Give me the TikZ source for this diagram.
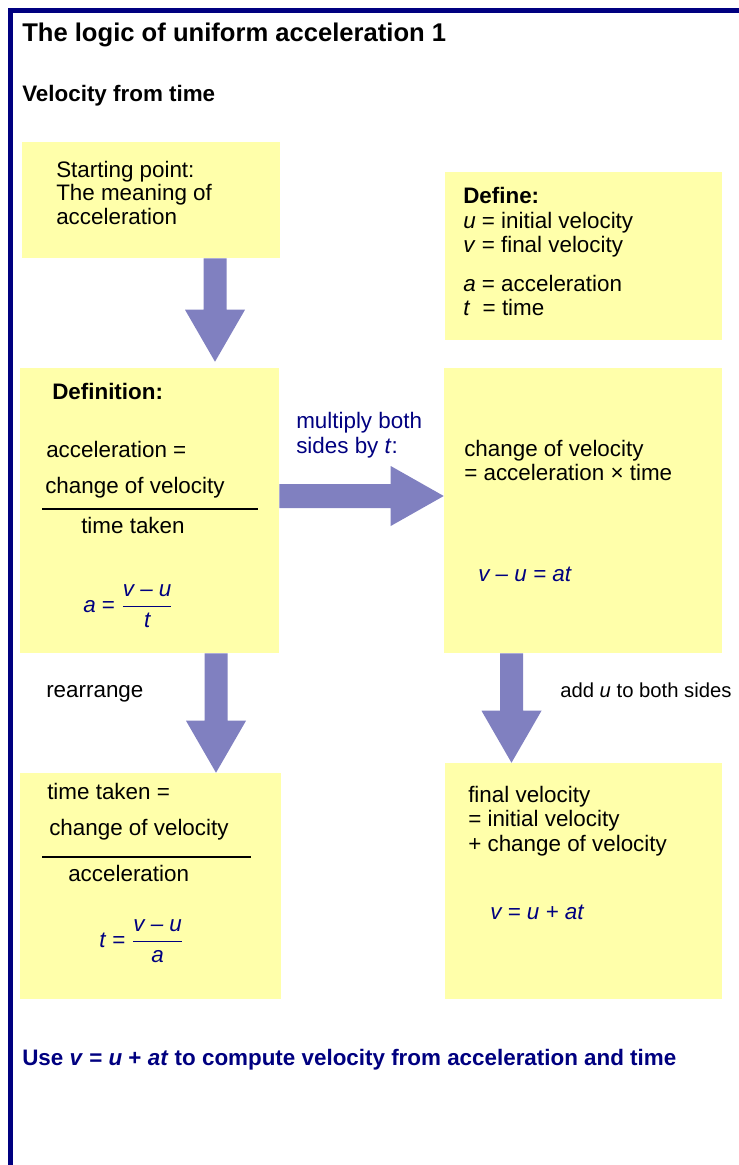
\documentclass[tikz,border=0pt]{standalone}
\usepackage{amsmath}
\usepackage{fontspec}
\setmainfont{Liberation Sans}
\usepackage{xcolor}
\usetikzlibrary{calc,fit}

\definecolor{noteyellow}{HTML}{FFFFAA}
\definecolor{arrowblue}{HTML}{8080C0}
\definecolor{framenavy}{HTML}{000080}

\tikzset{
  notebox/.style={fill=noteyellow, draw=none, inner sep=0pt},
  txt/.style={anchor=base west, inner sep=0pt, font=\fontsize{16.8}{20}\selectfont},
  navytxt/.style={txt, text=framenavy},
  blockarrow/.style={fill=arrowblue},
  fracline/.style={line width=1.9pt},
}

% block arrows: #1 = tail, #2 = tip
\newcommand{\blockdown}[2]{%
  \fill[blockarrow] ($(#1)+(-11.5,0)$) -- ($(#1)+(11.5,0)$) -- ($(#2)+(11.5,-52)$)
    -- ($(#2)+(30,-52)$) -- (#2) -- ($(#2)+(-30,-52)$) -- ($(#2)+(-11.5,-52)$) -- cycle;}
\newcommand{\blockright}[2]{%
  \fill[blockarrow] ($(#1)+(0,-12)$) -- ($(#1)+(0,12)$) -- ($(#2)+(-53,12)$)
    -- ($(#2)+(-53,30)$) -- (#2) -- ($(#2)+(-53,-30)$) -- ($(#2)+(-53,-12)$) -- cycle;}

\begin{document}
\begin{tikzpicture}[x=0.75pt, y=-0.75pt]
\useasboundingbox (0,0) rectangle (739,1165);
% frame
\fill[framenavy] (7.5,7.5) rectangle (739,12.5);
\fill[framenavy] (7.5,7.5) rectangle (12.5,1165);

\node[txt, font=\fontsize{19.2}{23}\selectfont\bfseries] (title) at (22,41) {The logic of uniform acceleration 1};
\node[txt, font=\fontsize{16.8}{20}\selectfont\bfseries] (sub) at (22,101) {Velocity from time};

% boxes
\node[notebox, fit={(22,142) (280,258)}] (start) {};
\node[notebox, fit={(445,172) (722,340)}] (define) {};
\node[notebox, fit={(20,368) (279,653)}] (defn) {};
\node[notebox, fit={(444,368) (722,653)}] (change) {};
\node[notebox, fit={(20,773) (281,999)}] (tdef) {};
\node[notebox, fit={(445,763) (722,999)}] (final) {};

% starting point
\node[txt] (start1) at (56,177) {Starting point:};
\node[txt] (start2) at (56,200) {The meaning of};
\node[txt] (start3) at (56,224) {acceleration};

% symbols
\node[txt] (def0) at (463,203) {\bfseries Define:};
\node[txt] (def1) at (463,228) {\textit{u} = initial velocity};
\node[txt] (def2) at (463,252) {\textit{v} = final velocity};
\node[txt] (def3) at (463,291) {\textit{a} = acceleration};
\node[txt] (def4) at (463,315) {\textit{t}~ = time};

% definition
\node[txt] (defn0) at (52,399) {\bfseries Definition:};
\node[txt] (defn1) at (46,457) {acceleration =};
\node[txt] (defn2) at (45,493) {change of velocity};
\draw[fracline] (42,509) -- (258,509);
\node[txt] (defn3) at (81,533) {time taken};
\node[navytxt] (aeq) at (83,612) {\textit{a} = $\dfrac{\text{\itshape v – u}}{\text{\itshape t}}$};

% change of velocity
\node[txt] (chg1) at (464,456) {change of velocity};
\node[txt] (chg2) at (464,480) {= acceleration × time};
\node[navytxt] (chg3) at (478,581) {\itshape v – u = at};

% time taken
\node[txt] (tdef1) at (47,799) {time taken =};
\node[txt] (tdef2) at (49,835) {change of velocity};
\draw[fracline] (42,857) -- (251,857);
\node[txt] (tdef3) at (68,881) {acceleration};
\node[navytxt] (teq) at (99,947) {\textit{t} = $\dfrac{\text{\itshape v – u}}{\text{\itshape a}}$};

% final velocity
\node[txt] (fin1) at (468,802) {final velocity};
\node[txt] (fin2) at (468,826) {= initial velocity};
\node[txt] (fin3) at (468,851) {+ change of velocity};
\node[navytxt] (fin4) at (490,919) {\itshape v = u + at};

% arrows
\coordinate (a1from) at ($(start.south)+(64,0)$);
\coordinate (a1to) at ($(a1from |- defn.north)+(0,-6)$);
\blockdown{a1from}{a1to}
\coordinate (a2from) at ($(defn.east)+(0,-14.5)$);
\coordinate (a2to) at (a2from -| change.west);
\blockright{a2from}{a2to}
\coordinate (a3from) at ($(defn.south)+(66.5,0)$);
\coordinate (a3to) at (a3from |- tdef.north);
\blockdown{a3from}{a3to}
\coordinate (a4from) at ($(change.south)+(-71.5,0)$);
\coordinate (a4to) at (a4from |- final.north);
\blockdown{a4from}{a4to}

\node[navytxt] (mult1) at (296,428) {multiply both};
\node[navytxt] (mult2) at (296,453) {sides by \textit{t}:};
\node[txt] (rearr) at (46,697) {rearrange};
\node[txt, font=\fontsize{15.2}{18}\selectfont] (addu) at (560,697) {add \textit{u} to both sides};

\node[navytxt, font=\fontsize{16.8}{20}\selectfont\bfseries] (usage) at (22,1065)
  {Use \textit{v} = \textit{u} + \textit{at} to compute velocity from acceleration and time};
\end{tikzpicture}
\end{document}
